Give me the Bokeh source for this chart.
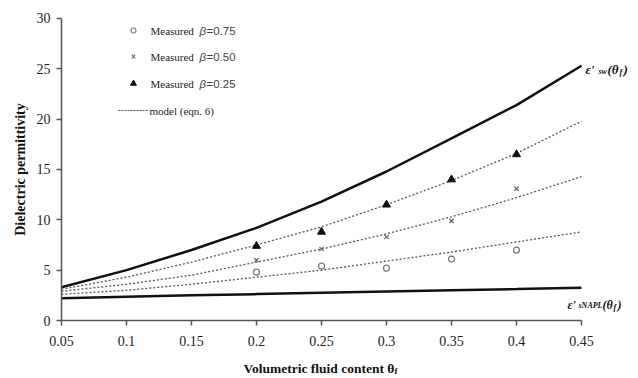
import math
from bokeh.plotting import figure
from bokeh.models import Label, FixedTicker
from bokeh.embed import file_html
from bokeh.resources import INLINE

# ---- data ----
theta = [0.05, 0.10, 0.15, 0.20, 0.25, 0.30, 0.35, 0.40, 0.45]
eps_sw = [3.3, 5.0, 7.0, 9.2, 11.8, 14.8, 18.1, 21.4, 25.3]
eps_snapl = [2.2, 2.35, 2.5, 2.62, 2.75, 2.88, 3.0, 3.12, 3.25]
model_025 = [3.1, 4.3, 5.8, 7.5, 9.3, 11.5, 13.9, 16.6, 19.8]
model_050 = [2.9, 3.6, 4.5, 5.8, 7.1, 8.6, 10.3, 12.2, 14.3]
model_075 = [2.6, 3.0, 3.6, 4.3, 5.0, 5.9, 6.8, 7.8, 8.8]

theta_meas = [0.20, 0.25, 0.30, 0.35, 0.40]
meas_075 = [4.8, 5.4, 5.2, 6.1, 7.0]
meas_050 = [6.0, 7.1, 8.3, 9.9, 13.1]
meas_025 = [7.4, 8.8, 11.5, 14.0, 16.5]

x_ticks = [0.05, 0.1, 0.15, 0.2, 0.25, 0.3, 0.35, 0.4, 0.45]
y_ticks = [0, 5, 10, 15, 20, 25, 30]

SERIF = "Liberation Serif"
SANS = "Liberation Sans"

W, H = 636, 376

# canvas-pixel helpers (axis: x 0.05->61px, 0.45->581px; y 0->320px, 30->18px)
def dx(px):
    return 0.05 + (px - 61) * 0.05 / 65.0

def dy(py):
    return (320 - py) / 10.067

p = figure(frame_width=W, frame_height=H,
           x_range=(dx(0), dx(W)), y_range=(dy(H), dy(0)),
           output_backend="svg", toolbar_location=None,
           min_border_left=0, min_border_right=0, min_border_top=0,
           min_border_bottom=0)
p.outline_line_color = None
p.xgrid.visible = False
p.ygrid.visible = False

for ax in (p.xaxis, p.yaxis):
    ax.axis_line_color = "#555555"
    ax.axis_line_width = 1.5
    ax.major_tick_line_color = "#555555"
    ax.major_tick_line_width = 1.5
    ax.major_tick_out = 5
    ax.major_tick_in = 0
    ax.minor_tick_line_color = None
    ax.major_label_text_font = SERIF
    ax.major_label_text_font_size = "14px"
    ax.major_label_text_color = "#222222"

p.xaxis.ticker = FixedTicker(ticks=x_ticks)
p.yaxis.ticker = FixedTicker(ticks=y_ticks)
p.xaxis.bounds = (0.05, 0.45)
p.yaxis.bounds = (0, 30)
p.xaxis.fixed_location = 0
p.yaxis.fixed_location = 0.05
p.xaxis.major_label_overrides = {t: ("%g" % t) for t in x_ticks}
p.xaxis.major_label_standoff = 10
p.yaxis.major_label_standoff = 6

# curves
p.line(theta, eps_sw, line_color="#111111", line_width=2.5)
p.line(theta, eps_snapl, line_color="#111111", line_width=2.5)
for m in (model_025, model_050, model_075):
    p.line(theta, m, line_color="#555555", line_width=1.3, line_dash="2 2")

p.scatter(theta_meas, meas_075, marker="circle", size=6, fill_color=None,
          line_color="#777777", line_width=1.2)
p.scatter(theta_meas, meas_050, marker="x", size=6, line_color="#666666",
          line_width=1.2)
p.scatter(theta_meas, meas_025, marker="triangle", size=8, fill_color="#111111",
          line_color="#111111")

# legend (manual)
rows = [(30, "circle", "0.75"), (56, "x", "0.50"), (83, "triangle", "0.25")]
for py, mk, b in rows:
    if mk == "circle":
        p.scatter([dx(133)], [dy(py)], marker="circle", size=5, fill_color=None,
                  line_color="#777777", line_width=1.1)
    elif mk == "x":
        p.scatter([dx(133)], [dy(py)], marker="x", size=5, line_color="#666666",
                  line_width=1.1)
    else:
        p.scatter([dx(133)], [dy(py)], marker="triangle", size=6,
                  fill_color="#111111", line_color="#111111")
    p.add_layout(Label(x=dx(150), y=dy(py), text="Measured", text_font=SERIF,
                       text_font_size="11px", text_color="#222222",
                       text_baseline="middle"))
    p.add_layout(Label(x=dx(199), y=dy(py), text="β", text_font=SANS,
                       text_font_style="italic", text_font_size="11.5px",
                       text_color="#444444", text_baseline="middle"))
    p.add_layout(Label(x=dx(206), y=dy(py), text="=" + b, text_font=SANS,
                       text_font_size="11.5px", text_color="#444444",
                       text_baseline="middle"))

p.line([dx(118), dx(147)], [dy(110), dy(110)], line_color="#555555",
       line_width=1.2, line_dash="2 1")
p.add_layout(Label(x=dx(149), y=dy(110), text="model (eqn. 6)", text_font=SERIF,
                   text_font_size="11px", text_color="#222222",
                   text_baseline="middle"))

# right-hand curve labels
def piece(px, py, txt, size, style="bold italic"):
    p.add_layout(Label(x=dx(px), y=dy(py), text=txt, text_font=SERIF,
                       text_font_style=style, text_font_size=size,
                       text_color="#111111", text_baseline="alphabetic"))

# eps'_sw(theta_f)
piece(585, 69, "ε'", "13px")
piece(598, 71, "sw", "8px")
piece(607, 69, "(θ", "13px")
piece(619, 72, "f", "8px")
piece(623, 69, ")", "13px")
# eps'_sNAPL(theta_f)
piece(567, 304, "ε'", "12px")
piece(578, 305, "sNAPL", "8px")
piece(602, 304, "(θ", "12px")
piece(613, 307, "f", "8px")
piece(617, 304, ")", "12px")

# axis titles
p.add_layout(Label(x=dx(20), y=dy(169), text="Dielectric permittivity",
                   angle=math.pi / 2, text_font=SERIF, text_font_style="bold",
                   text_font_size="14px", text_color="#111111",
                   text_align="center", text_baseline="middle"))
p.add_layout(Label(x=dx(243), y=dy(368), text="Volumetric fluid content θ",
                   text_font=SERIF, text_font_style="bold", text_font_size="13.5px",
                   text_color="#111111", text_align="left",
                   text_baseline="alphabetic"))
p.add_layout(Label(x=dx(394), y=dy(370), text="f", text_font=SERIF,
                   text_font_style="bold", text_font_size="9px",
                   text_color="#111111", text_baseline="alphabetic"))

open("out.html", "w").write(file_html(p, INLINE))
